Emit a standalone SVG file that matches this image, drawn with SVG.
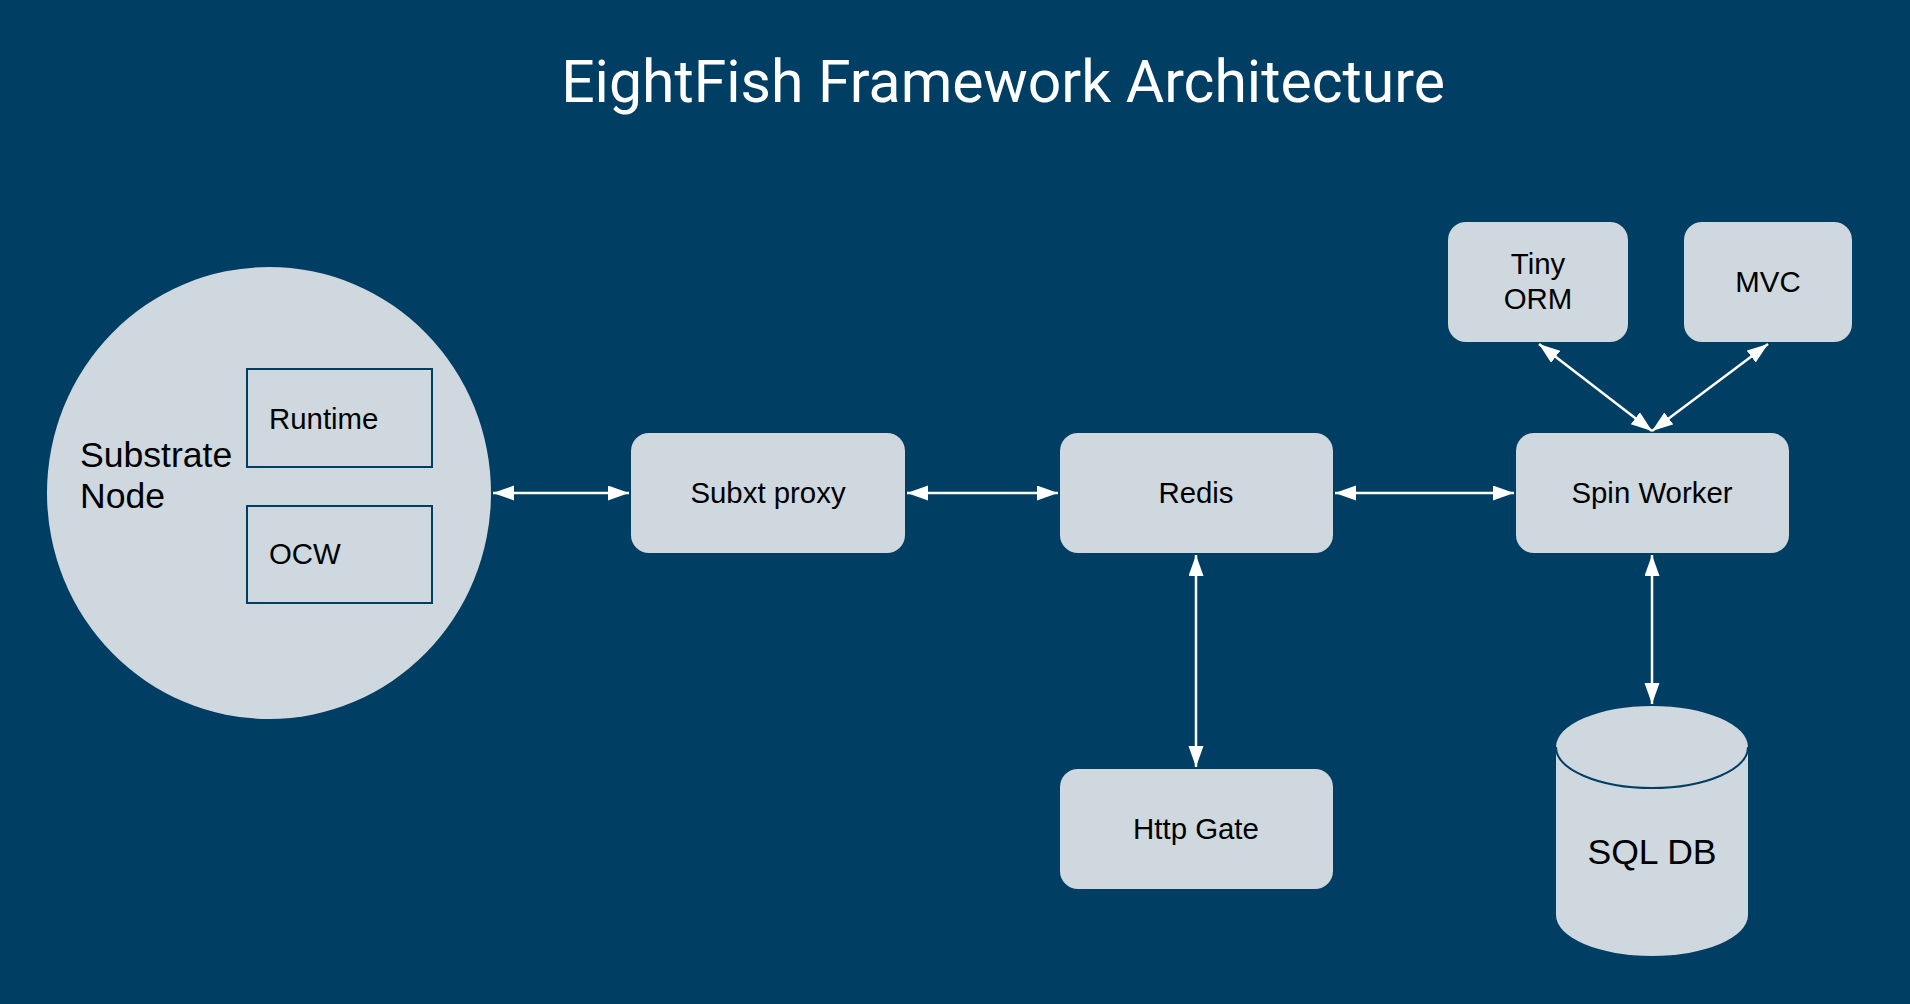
<svg xmlns="http://www.w3.org/2000/svg" width="1910" height="1004" viewBox="0 0 1910 1004">
<style>
.bg{fill:#003f63}
.box{fill:#cfd8de}
.inner{fill:#cfd8de;stroke:#003f63;stroke-width:2}
.lbl{font-family:"Liberation Sans",Arial,sans-serif;fill:#000;font-size:29.4px}
.big{font-size:35.6px}
.title{font-family:Roboto,"Liberation Sans",sans-serif;fill:#fff;font-size:58.9px}
.con{stroke:#fff;stroke-width:2.5;fill:none;marker-start:url(#ah);marker-end:url(#ah)}
</style>
<defs>
<marker id="ah" markerUnits="userSpaceOnUse" markerWidth="22" markerHeight="16" refX="21" refY="7.5" orient="auto-start-reverse" viewBox="0 0 22 16">
<path d="M0,0 L21,7.5 L0,15 z" fill="#fff"/>
</marker>
</defs>
<rect class="bg" x="0" y="0" width="1910" height="1004"/>
<text class="title" x="1003" y="102" text-anchor="middle">EightFish Framework Architecture</text>

<g id="substrate-node">
<ellipse class="box" cx="269" cy="493" rx="222" ry="226"/>
<text class="lbl big" x="80" y="467">Substrate</text>
<text class="lbl big" x="80" y="508">Node</text>
</g>
<g id="runtime">
<rect class="inner" x="247" y="369" width="185" height="98"/>
<text class="lbl" x="269" y="429">Runtime</text>
</g>
<g id="ocw">
<rect class="inner" x="247" y="506" width="185" height="97"/>
<text class="lbl" x="269" y="564">OCW</text>
</g>
<g id="subxt-proxy">
<rect class="box" x="631" y="433" width="274" height="120" rx="18"/>
<text class="lbl" x="768" y="503" text-anchor="middle">Subxt proxy</text>
</g>
<g id="redis">
<rect class="box" x="1060" y="433" width="273" height="120" rx="18"/>
<text class="lbl" x="1196" y="503" text-anchor="middle">Redis</text>
</g>
<g id="spin-worker">
<rect class="box" x="1516" y="433" width="273" height="120" rx="18"/>
<text class="lbl" x="1652" y="503" text-anchor="middle">Spin Worker</text>
</g>
<g id="tiny-orm">
<rect class="box" x="1448" y="222" width="180" height="120" rx="18"/>
<text class="lbl" x="1538" y="274" text-anchor="middle">Tiny</text>
<text class="lbl" x="1538" y="309" text-anchor="middle">ORM</text>
</g>
<g id="mvc">
<rect class="box" x="1684" y="222" width="168" height="120" rx="18"/>
<text class="lbl" x="1768" y="292" text-anchor="middle">MVC</text>
</g>
<g id="http-gate">
<rect class="box" x="1060" y="769" width="273" height="120" rx="18"/>
<text class="lbl" x="1196" y="839" text-anchor="middle">Http Gate</text>
</g>
<g id="sql-db">
<path class="box" d="M1556,747 A96,41 0 0 1 1748,747 L1748,915 A96,41 0 0 1 1556,915 Z"/>
<path d="M1556,747 A96,41 0 0 0 1748,747" fill="none" stroke="#003f63" stroke-width="2"/>
<text class="lbl big" x="1652" y="864" text-anchor="middle">SQL DB</text>
</g>

<g id="connectors">
<line class="con" x1="493" y1="493" x2="629" y2="493"/>
<line class="con" x1="907" y1="493" x2="1058" y2="493"/>
<line class="con" x1="1335" y1="493" x2="1514" y2="493"/>
<line class="con" x1="1196" y1="555" x2="1196" y2="767"/>
<line class="con" x1="1652" y1="555" x2="1652" y2="704"/>
<line class="con" x1="1539" y1="344" x2="1652" y2="431"/>
<line class="con" x1="1768" y1="344" x2="1652" y2="431"/>
</g>
</svg>
